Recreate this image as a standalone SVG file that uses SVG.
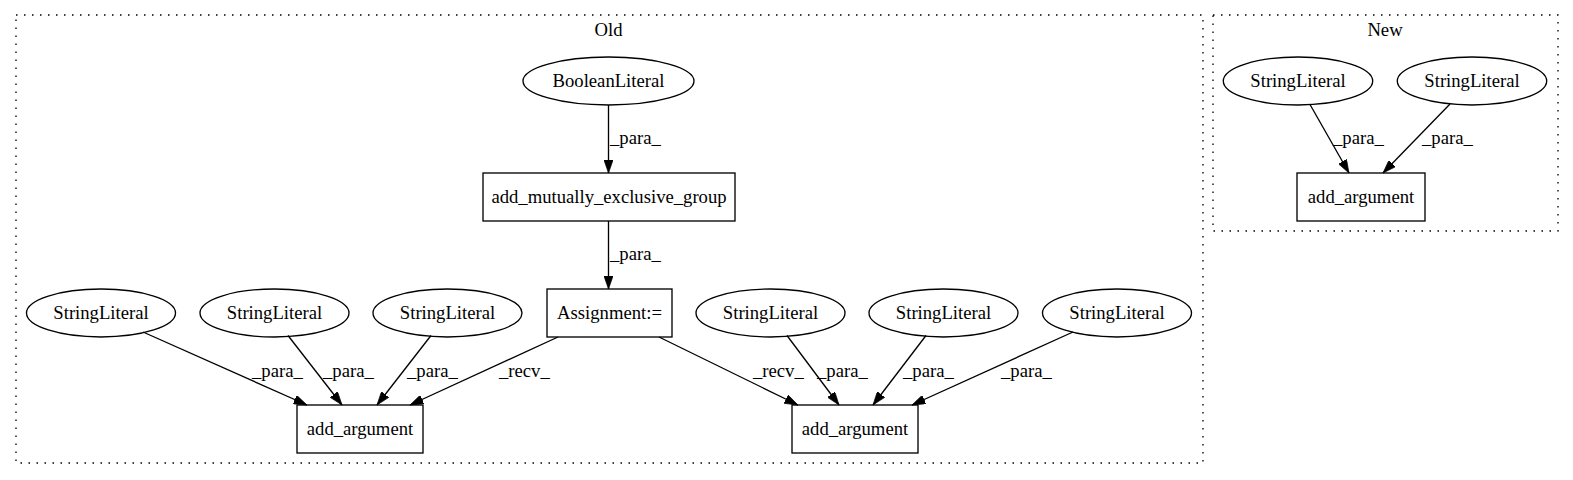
<svg xmlns="http://www.w3.org/2000/svg" width="1573" height="480" viewBox="0 0 1573 480" font-family="'Liberation Serif', 'Times New Roman', 'DejaVu Serif', serif">
<style>
text{font-family:'Liberation Serif','Times New Roman','DejaVu Serif',serif;font-size:18.67px;fill:#000}
.n{text-anchor:middle}
.shape{fill:none;stroke:#000;stroke-width:1.33}
.cl{fill:none;stroke:#000;stroke-width:1.33;stroke-dasharray:1.5,6.5}
.e{fill:none;stroke:#000;stroke-width:1.33;marker-end:url(#ah)}
</style>
<defs>
<marker id="ah" viewBox="0 0 10 7" refX="10" refY="3.5" markerWidth="13.3" markerHeight="9.3" markerUnits="userSpaceOnUse" orient="auto">
<path d="M0,0 L10,3.5 L0,7 z" fill="#000" stroke="#000" stroke-width="0.5"/>
</marker>
</defs>
<rect width="1573" height="480" fill="#fff"/>
<g id="cluster_old">
<rect class="cl" x="16" y="15" width="1187" height="448"/>
<text class="n" x="608.5" y="36">Old</text>
</g>
<g id="cluster_new">
<rect class="cl" x="1213" y="15" width="345" height="216"/>
<text class="n" x="1385" y="36">New</text>
</g>
<g id="connectors">
<line class="e" x1="608.5" y1="105" x2="608.5" y2="173"/>
<text x="610" y="144">_para_</text>
<line class="e" x1="608.5" y1="221" x2="608.5" y2="289"/>
<text x="610" y="260">_para_</text>
<line class="e" x1="143" y1="332" x2="307" y2="405"/>
<text x="252" y="377">_para_</text>
<line class="e" x1="288" y1="335.5" x2="342" y2="405"/>
<text x="323" y="377">_para_</text>
<line class="e" x1="431" y1="335.5" x2="377" y2="405"/>
<text x="407" y="377">_para_</text>
<line class="e" x1="558" y1="337" x2="410" y2="405"/>
<text x="499" y="377">_recv_</text>
<line class="e" x1="659" y1="337" x2="798" y2="405"/>
<text x="753" y="377">_recv_</text>
<line class="e" x1="787" y1="335.5" x2="839" y2="405"/>
<text x="817" y="377">_para_</text>
<line class="e" x1="926" y1="335.5" x2="873" y2="405"/>
<text x="903" y="377">_para_</text>
<line class="e" x1="1073" y1="332" x2="912" y2="405"/>
<text x="1001" y="377">_para_</text>
<line class="e" x1="1310" y1="104.5" x2="1349" y2="173"/>
<text x="1333" y="144">_para_</text>
<line class="e" x1="1450" y1="104" x2="1383" y2="173"/>
<text x="1422" y="144">_para_</text>
</g>
<g id="boolean_literal">
<ellipse class="shape" cx="608.5" cy="81" rx="85.5" ry="24"/>
<text class="n" x="608.5" y="87">BooleanLiteral</text>
</g>
<g id="add_mutually_exclusive_group">
<rect class="shape" x="483" y="173" width="252" height="48"/>
<text class="n" x="609" y="203">add_mutually_exclusive_group</text>
</g>
<g id="assignment">
<rect class="shape" x="547" y="289" width="125" height="48"/>
<text class="n" x="609.5" y="319">Assignment:=</text>
</g>
<g id="old_string_1">
<ellipse class="shape" cx="101" cy="313" rx="74.5" ry="24"/>
<text class="n" x="101" y="319">StringLiteral</text>
</g>
<g id="old_string_2">
<ellipse class="shape" cx="274.5" cy="313" rx="74.5" ry="24"/>
<text class="n" x="274.5" y="319">StringLiteral</text>
</g>
<g id="old_string_3">
<ellipse class="shape" cx="447.5" cy="313" rx="74.5" ry="24"/>
<text class="n" x="447.5" y="319">StringLiteral</text>
</g>
<g id="old_string_4">
<ellipse class="shape" cx="770.5" cy="313" rx="74.5" ry="24"/>
<text class="n" x="770.5" y="319">StringLiteral</text>
</g>
<g id="old_string_5">
<ellipse class="shape" cx="943.5" cy="313" rx="74.5" ry="24"/>
<text class="n" x="943.5" y="319">StringLiteral</text>
</g>
<g id="old_string_6">
<ellipse class="shape" cx="1117" cy="313" rx="74.5" ry="24"/>
<text class="n" x="1117" y="319">StringLiteral</text>
</g>
<g id="old_add_argument_1">
<rect class="shape" x="297" y="405" width="126" height="48"/>
<text class="n" x="360" y="435">add_argument</text>
</g>
<g id="old_add_argument_2">
<rect class="shape" x="792" y="405" width="126" height="48"/>
<text class="n" x="855" y="435">add_argument</text>
</g>
<g id="new_string_1">
<ellipse class="shape" cx="1298" cy="81" rx="74.7" ry="24"/>
<text class="n" x="1298" y="87">StringLiteral</text>
</g>
<g id="new_string_2">
<ellipse class="shape" cx="1472" cy="81" rx="74.7" ry="24"/>
<text class="n" x="1472" y="87">StringLiteral</text>
</g>
<g id="new_add_argument">
<rect class="shape" x="1297" y="173" width="128" height="48"/>
<text class="n" x="1361" y="203">add_argument</text>
</g>
</svg>
